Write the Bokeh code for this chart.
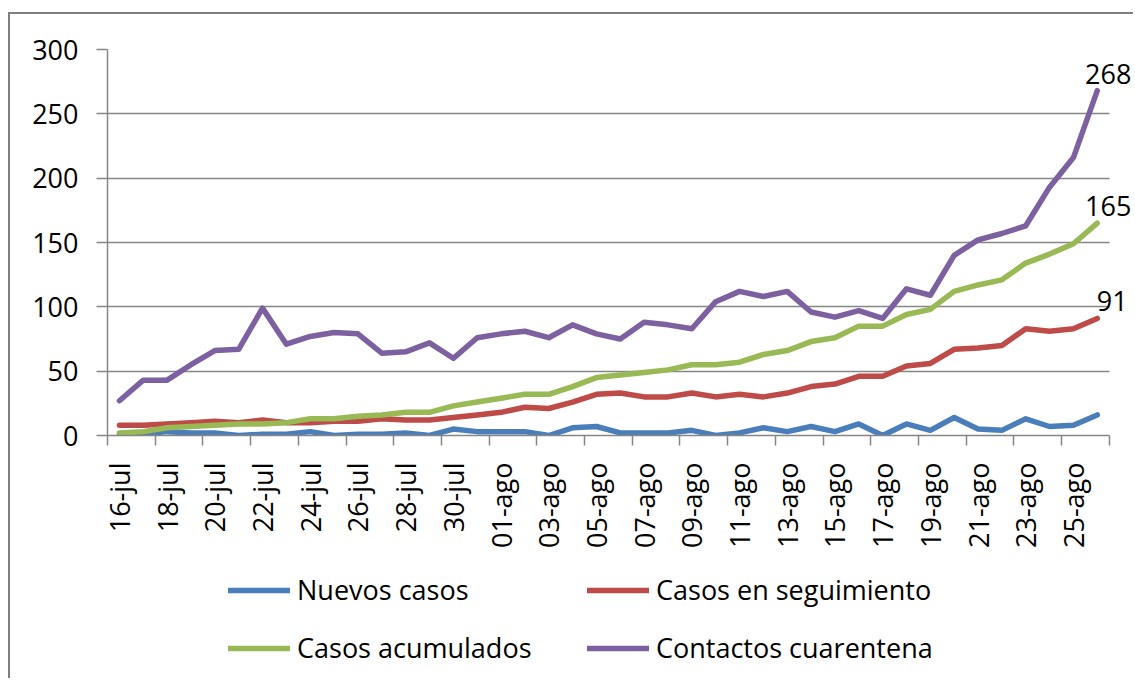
import math
from bokeh.plotting import figure
from bokeh.layouts import column
from bokeh.models import Range1d, FixedTicker, Legend, LegendItem, LabelSet, ColumnDataSource
from bokeh.core.properties import value
from bokeh.embed import file_html
from bokeh.resources import INLINE

# ---------------- data ----------------
fechas = ["16-jul", "17-jul", "18-jul", "19-jul", "20-jul", "21-jul", "22-jul", "23-jul",
          "24-jul", "25-jul", "26-jul", "27-jul", "28-jul", "29-jul", "30-jul", "31-jul",
          "01-ago", "02-ago", "03-ago", "04-ago", "05-ago", "06-ago", "07-ago", "08-ago",
          "09-ago", "10-ago", "11-ago", "12-ago", "13-ago", "14-ago", "15-ago", "16-ago",
          "17-ago", "18-ago", "19-ago", "20-ago", "21-ago", "22-ago", "23-ago", "24-ago",
          "25-ago", "26-ago"]

nuevos_casos = [1, 1, 3, 2, 2, 0, 1, 1, 3, 0, 1, 1, 2, 0, 5, 3, 3, 3, 0, 6, 7,
                2, 2, 2, 4, 0, 2, 6, 3, 7, 3, 9, 0, 9, 4, 14, 5, 4, 13, 7, 8, 16]
casos_seguimiento = [8, 8, 9, 10, 11, 10, 12, 10, 10, 11, 11, 13, 12, 12, 14, 16, 18, 22, 21, 26, 32,
                     33, 30, 30, 33, 30, 32, 30, 33, 38, 40, 46, 46, 54, 56, 67, 68, 70, 83, 81, 83, 91]
casos_acumulados = [2, 3, 6, 7, 8, 9, 9, 10, 13, 13, 15, 16, 18, 18, 23, 26, 29, 32, 32, 38, 45,
                    47, 49, 51, 55, 55, 57, 63, 66, 73, 76, 85, 85, 94, 98, 112, 117, 121, 134, 141, 149, 165]
contactos_cuarentena = [27, 43, 43, 55, 66, 67, 99, 71, 77, 80, 79, 64, 65, 72, 60, 76, 79, 81, 76, 86, 79,
                        75, 88, 86, 83, 104, 112, 108, 112, 96, 92, 97, 91, 114, 109, 140, 152, 157, 163, 193, 216, 268]

y_ticks = [0, 50, 100, 150, 200, 250, 300]

series_names = ["Nuevos casos", "Casos en seguimiento", "Casos acumulados", "Contactos cuarentena"]
series_colors = ["#4A7EBB", "#BE4B48", "#98B954", "#7D60A0"]

# ---------------- figure ----------------
FONT = "Open Sans"
FS = "27px"
GRID = "#868686"
BORDER = "2px solid #7f7f7f"

W = 1125
H1, H2 = 546, 120
LEFT, TOP, RIGHT = 97, 35, 0
FRAME_H = 386
CAT_W = 23.85  # pixels per day

xi = list(range(len(fechas)))
n = len(fechas)
frame_w = W - LEFT - RIGHT
x_end = -0.5 + frame_w / CAT_W

p = figure(width=W, height=H1, output_backend="svg", toolbar_location=None,
           x_range=Range1d(-0.5, x_end), y_range=Range1d(y_ticks[0], y_ticks[-1]),
           min_border_left=LEFT, min_border_top=TOP, min_border_right=RIGHT,
           min_border_bottom=H1 - TOP - FRAME_H)
p.styles = {"border-top": BORDER, "border-left": BORDER,
            "margin-top": "12px", "margin-left": "8px"}
p.outline_line_color = None
p.background_fill_color = "white"
p.border_fill_color = "white"

# y axis
p.yaxis.ticker = FixedTicker(ticks=y_ticks)
p.yaxis.axis_line_color = GRID
p.yaxis.axis_line_width = 1.5
p.yaxis.major_tick_line_color = GRID
p.yaxis.major_tick_line_width = 1.5
p.yaxis.major_tick_out = 11
p.yaxis.major_tick_in = 0
p.yaxis.minor_tick_line_color = None
p.yaxis.major_label_standoff = 18
p.yaxis.major_label_text_font = FONT
p.yaxis.major_label_text_font_size = FS
p.yaxis.major_label_text_color = "#000000"

# x axis: labels at every second day, ticks on category boundaries
p.xaxis.ticker = FixedTicker(ticks=xi[::2],
                             minor_ticks=[i - 0.5 for i in range(0, n + 1, 2)])
p.xaxis.bounds = (-0.5, n - 0.5)
p.xaxis.major_label_overrides = {i: fechas[i] for i in xi[::2]}
p.xaxis.major_label_orientation = math.pi / 2
p.xaxis.axis_line_color = GRID
p.xaxis.axis_line_width = 1.5
p.xaxis.major_tick_line_color = None
p.xaxis.major_tick_out = 0
p.xaxis.major_tick_in = 0
p.xaxis.minor_tick_line_color = GRID
p.xaxis.minor_tick_line_width = 1.5
p.xaxis.minor_tick_out = 10
p.xaxis.minor_tick_in = 0
p.xaxis.major_label_standoff = 17
p.xaxis.major_label_text_font = FONT
p.xaxis.major_label_text_font_size = FS
p.xaxis.major_label_text_color = "#000000"

p.xgrid.visible = False
p.ygrid.ticker = FixedTicker(ticks=y_ticks)
p.ygrid.grid_line_color = GRID
p.ygrid.grid_line_width = 1.5
p.ygrid.cross_bounds = (-0.5, n - 0.5)

# lines
all_series = [nuevos_casos, casos_seguimiento, casos_acumulados, contactos_cuarentena]
for name, vals, col in zip(series_names, all_series, series_colors):
    p.line(xi, vals, line_color=col, line_width=5.5, line_join="round", line_cap="round")

# data labels at last point
last_vals = [contactos_cuarentena[-1], casos_acumulados[-1], casos_seguimiento[-1]]
lab_src = ColumnDataSource(dict(
    x=[xi[-1]] * len(last_vals),
    y=last_vals,
    t=[str(v) for v in last_vals],
    dx=[11, 11, 15],
))
labels = LabelSet(x="x", y="y", text="t", source=lab_src, x_offset="dx", y_offset=7,
                  text_align="center", text_baseline="alphabetic",
                  text_font=value(FONT), text_font_size=value(FS), text_color="#000000")
p.add_layout(labels)

# ---------------- legend strip ----------------
# same series drawn out of view, only to carry the legend glyphs
p2 = figure(width=W, height=H2, output_backend="svg", toolbar_location=None,
            x_axis_type=None, y_axis_type=None, min_border=0,
            x_range=Range1d(-0.5, x_end), y_range=Range1d(-1000, -999))
p2.styles = {"border-left": BORDER, "margin-left": "8px"}
p2.outline_line_color = None
p2.grid.visible = False
items = []
for name, vals, col in zip(series_names, all_series, series_colors):
    r = p2.line(xi, vals, line_color=col, line_width=5.5, line_join="round", line_cap="round")
    items.append(LegendItem(label=name, renderers=[r]))

legend = Legend(items=items, location=(121, 12), orientation="horizontal", ncols=2,
                border_line_color=None, background_fill_alpha=0, padding=0, margin=0,
                spacing=21, label_height=36, glyph_height=36, glyph_width=62,
                label_standoff=7, label_width=269,
                label_text_font=FONT, label_text_font_size=FS, label_text_color="#000000")
p2.add_layout(legend, "center")

layout = column(p, p2, spacing=0)
open("out.html", "w").write(file_html(layout, INLINE))
